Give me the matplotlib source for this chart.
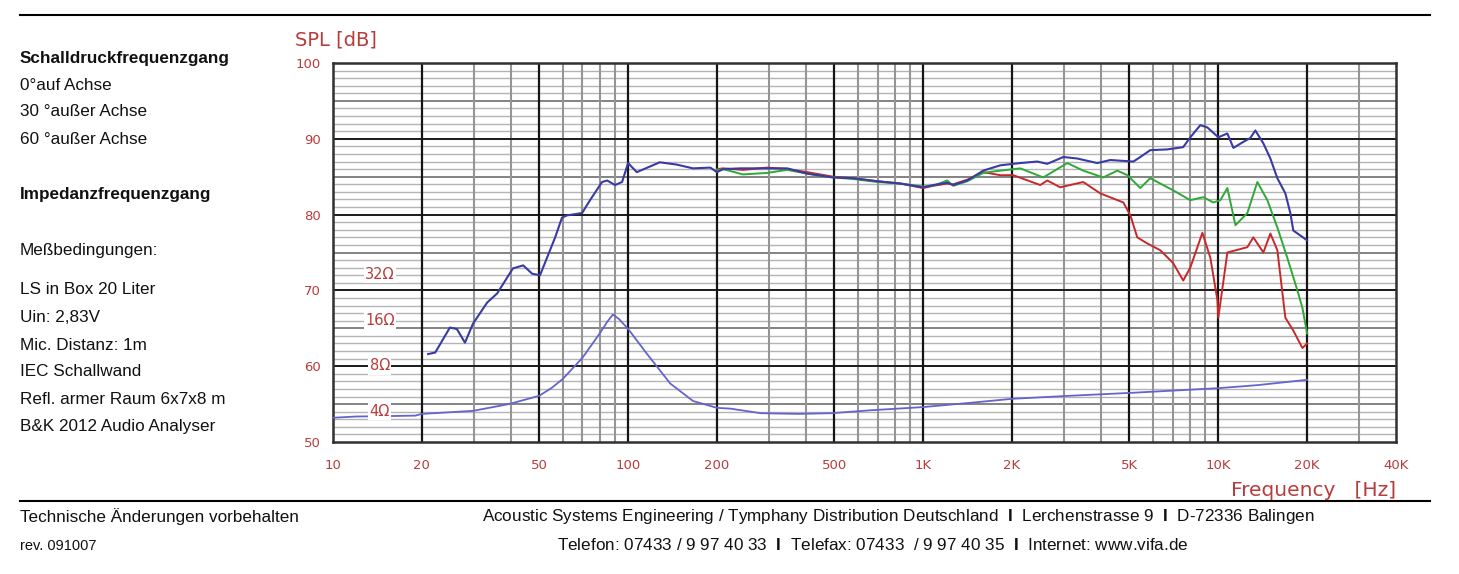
import numpy as np
import matplotlib
matplotlib.use('Agg')
import matplotlib.pyplot as plt

plt.rcParams['font.family'] = ['Liberation Sans', 'DejaVu Sans']
plt.rcParams['mathtext.fontset'] = 'custom'
plt.rcParams['mathtext.rm'] = 'Liberation Sans'
plt.rcParams['mathtext.bf'] = 'Liberation Sans:bold'

# 0 deg on axis
freq_0 = [21.0, 22.2, 24.9, 26.3, 28.0, 29.8, 33.3, 36.0, 40.7, 44.1,
          47.3, 50.3, 53.1, 56.6, 59.7, 62.1, 69.8, 74.3, 81.6, 84.9,
          90.3, 95.4, 100, 107, 128, 146, 166, 190, 200, 210,
          240, 296, 346, 405, 495, 579, 699, 836, 1000, 1082,
          1206, 1264, 1410, 1597, 1824, 2133, 2435, 2633, 2985, 3326,
          3890, 4305, 5155, 5441, 5878, 6714, 7603, 8035, 8690, 9180,
          10000, 10730, 11250, 12160, 12830, 13350, 14210, 15010, 15850, 16870,
          17540, 17950, 20000]
spl_0 = [61.6, 61.8, 65.1, 64.9, 63.1, 65.6, 68.4, 69.6, 72.9, 73.3,
         72.2, 72.0, 74.3, 77.0, 79.6, 79.9, 80.2, 81.9, 84.3, 84.5,
         83.9, 84.3, 86.8, 85.6, 86.9, 86.6, 86.1, 86.2, 85.6, 86.0,
         86.1, 86.1, 86.1, 85.4, 84.9, 84.8, 84.4, 84.1, 83.6, 83.9,
         84.2, 83.9, 84.5, 85.8, 86.5, 86.8, 87.0, 86.7, 87.6, 87.4,
         86.8, 87.2, 87.0, 87.6, 88.5, 88.6, 88.9, 90.2, 91.8, 91.5,
         90.2, 90.7, 88.8, 89.6, 90.1, 91.1, 89.4, 87.4, 84.8, 82.8,
         80.2, 77.9, 76.6]

# 30 deg off axis
freq_30 = [200, 210, 245, 296, 346, 405, 495, 579, 699, 836,
           1000, 1082, 1206, 1264, 1410, 1597, 1824, 2133, 2552, 3078,
           3485, 4074, 4546, 4920, 5441, 5878, 7031, 8035, 8895, 9616,
           10160, 10730, 11430, 12540, 13560, 14660, 15850, 17130, 18530, 19270,
           20000]
spl_30 = [85.9, 86.0, 85.3, 85.5, 85.9, 85.4, 84.9, 84.7, 84.3, 84.1,
          83.7, 83.8, 84.5, 83.8, 84.4, 85.5, 85.8, 86.1, 84.9, 86.8,
          85.8, 84.9, 85.8, 85.2, 83.5, 84.8, 83.2, 81.9, 82.3, 81.6,
          81.9, 83.5, 78.6, 80.2, 84.3, 81.9, 78.3, 74.3, 70.0, 67.7,
          64.3]

# 60 deg off axis
freq_60 = [200, 210, 245, 296, 346, 405, 495, 579, 699, 836,
           1000, 1082, 1206, 1264, 1410, 1597, 1824, 2018, 2492, 2633,
           2912, 3485, 3981, 4766, 5035, 5312, 5743, 6357, 7031, 7603,
           8035, 8830, 9397, 9930, 10000, 10730, 12540, 13140, 14210, 15010,
           15850, 16870, 17950, 19270, 20000]
spl_60 = [86.0, 86.1, 85.9, 86.2, 86.0, 85.6, 85.0, 84.8, 84.4, 84.1,
          83.5, 83.8, 84.1, 84.0, 84.6, 85.6, 85.2, 85.2, 83.9, 84.5,
          83.6, 84.3, 82.8, 81.6, 79.9, 77.0, 76.2, 75.3, 73.6, 71.3,
          73.0, 77.6, 74.3, 68.7, 66.4, 75.0, 75.7, 77.0, 75.0, 77.5,
          75.3, 66.4, 64.7, 62.4, 63.0]

# impedance in ohms
freq_z = [10, 12, 15, 19, 20, 29.8, 39.5, 50, 55, 60,
          70, 80, 85, 88.8, 93, 100, 116, 139, 166, 200,
          222, 282, 376, 489, 668, 1000, 1470, 2000, 3148, 5166,
          10000, 13600, 20000]
ohm_z = [3.63, 3.70, 3.72, 3.75, 3.85, 4.03, 4.47, 5.07, 5.7, 6.53,
         9.02, 13.0, 15.6, 17.4, 16.3, 14.0, 9.55, 6.10, 4.68, 4.22,
         4.17, 3.89, 3.85, 3.89, 4.07, 4.27, 4.57, 4.84, 5.07, 5.31,
         5.69, 5.96, 6.46]

x_ticks = [10, 20, 50, 100, 200, 500, 1000, 2000, 5000, 10000, 20000, 40000]
x_labels = ['10', '20', '50', '100', '200', '500', '1K', '2K', '5K', '10K', '20K', '40K']
y_ticks = [50, 60, 70, 80, 90, 100]
ohm_ticks = [4, 8, 16, 32]

grid_heavy = [20, 50, 100, 200, 500, 1000, 2000, 5000, 10000, 20000]
grid_light = [30, 40, 60, 70, 80, 90, 300, 400, 600, 700, 800, 900,
              3000, 4000, 6000, 7000, 8000, 9000, 30000]

left_lines = [
    ('Schalldruckfrequenzgang', 58, 'bold'),
    ('0°auf Achse', 85, 'normal'),
    ('30 °außer Achse', 112, 'normal'),
    ('60 °außer Achse', 140, 'normal'),
    ('Impedanzfrequenzgang', 195, 'bold'),
    ('Meßbedingungen:', 250, 'normal'),
    ('LS in Box 20 Liter', 290, 'normal'),
    ('Uin: 2,83V', 317, 'normal'),
    ('Mic. Distanz: 1m', 345, 'normal'),
    ('IEC Schallwand', 372, 'normal'),
    ('Refl. armer Raum 6x7x8 m', 400, 'normal'),
    ('B&K 2012 Audio Analyser', 427, 'normal'),
]

W, H = 1459, 574
red_txt = '#b83c3c'
txt_size = 12.3

fig = plt.figure(figsize=(W / 100, H / 100), dpi=100)


def fx(x):
    return x / W


def fy(y):
    return 1 - y / H


ax = fig.add_axes([fx(333), fy(442), (1396 - 333) / W, (442 - 63) / H])
ax.set_xscale('log')
ax.set_xlim(10, 40000)
ax.set_ylim(50, 100)

# horizontal grid: 1 dB light, 5 dB medium, 10 dB dark
for db in range(51, 100):
    if db % 5 == 0:
        ax.axhline(db, color='#6e6e6e', lw=1.2, zorder=1)
    else:
        ax.axhline(db, color='#b4b4b4', lw=1.0, zorder=1)
for db in y_ticks[1:-1]:
    ax.axhline(db, color='#1e1e1e', lw=1.4, zorder=1.2)
for f in grid_light:
    ax.axvline(f, color='#959595', lw=1.5, zorder=1.1)
for f in grid_heavy:
    ax.axvline(f, color='#141414', lw=1.6, zorder=1.3)
for s in ax.spines.values():
    s.set_color('#303030')
    s.set_linewidth(1.8)

ax.set_xticks(x_ticks)
ax.set_xticklabels(x_labels)
ax.xaxis.set_minor_locator(matplotlib.ticker.NullLocator())
ax.set_yticks(y_ticks)
ax.set_yticklabels([str(v) for v in y_ticks])
ax.tick_params(length=0, colors=red_txt, labelsize=9.5)
ax.tick_params(axis='x', pad=12)
ax.tick_params(axis='y', pad=9)
for lab in ax.get_xticklabels() + ax.get_yticklabels():
    lab.set_fontfamily('DejaVu Sans')

# SPL curves
ax.plot(freq_60, spl_60, color='#c8282a', lw=1.4, zorder=5)
ax.plot(freq_30, spl_30, color='#2ea836', lw=1.4, zorder=6)
ax.plot(freq_0, spl_0, color='#3a3aa4', lw=1.5, zorder=7)

# impedance on a log ohm axis (6 dB per doubling, 4 ohm at 54 dB)
az = ax.twinx()
az.set_yscale('log')
az.set_ylim(10 ** (8 / 20), 10 ** (58 / 20))
az.set_yticks([])
az.yaxis.set_minor_locator(matplotlib.ticker.NullLocator())
for s in az.spines.values():
    s.set_visible(False)
az.plot(freq_z, ohm_z, color='#6464cc', lw=1.3, zorder=5)
for z in ohm_ticks:
    az.text(14.4, z, f'{z}Ω', ha='center', va='center', fontsize=10.5,
            color=red_txt, family='DejaVu Sans', zorder=8,
            bbox=dict(facecolor='white', edgecolor='none', pad=1.0))

fig.text(fx(295), fy(40), 'SPL [dB]', ha='left', va='center', fontsize=14,
         color=red_txt, family='DejaVu Sans')
fig.text(fx(1396), fy(490), 'Frequency   [Hz]', ha='right', va='center',
         fontsize=14.5, color=red_txt, family='DejaVu Sans')

# left description panel
for txt, y, w in left_lines:
    fig.text(fx(20), fy(y), txt, ha='left', va='center', fontsize=txt_size,
             fontweight=w, color='#111111')

# rules
fig.add_artist(plt.Line2D([fx(20), fx(1430)], [fy(15), fy(15)], color='black', lw=1.5))
fig.add_artist(plt.Line2D([fx(20), fx(1430)], [fy(501), fy(501)], color='black', lw=1.5))

# footer
fig.text(fx(20), fy(517), 'Technische Änderungen vorbehalten', ha='left', va='center',
         fontsize=txt_size, color='#111111')
fig.text(fx(20), fy(546), 'rev. 091007', ha='left', va='center', fontsize=10.5, color='#111111')
fig.text(fx(482), fy(517),
         r'Acoustic Systems Engineering / Tymphany Distribution Deutschland  $\mathbf{I}$  '
         r'Lerchenstrasse 9  $\mathbf{I}$  D-72336 Balingen',
         ha='left', va='center', fontsize=txt_size, color='#111111')
fig.text(fx(557), fy(545),
         r'Telefon: 07433 / 9 97 40 33  $\mathbf{I}$  Telefax: 07433  / 9 97 40 35  '
         r'$\mathbf{I}$  Internet: www.vifa.de',
         ha='left', va='center', fontsize=txt_size, color='#111111')

fig.savefig('out.png', dpi=100)
